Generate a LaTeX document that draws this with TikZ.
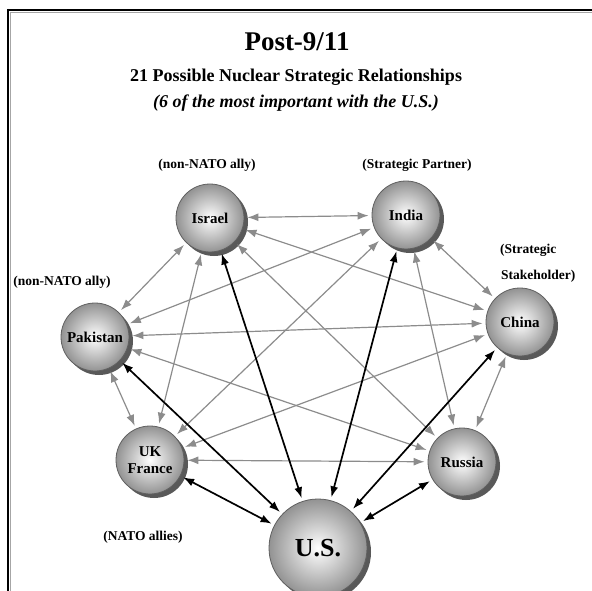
\documentclass[tikz,border=0pt]{standalone}
\usepackage{fontspec}
\setmainfont{Liberation Serif}
\usetikzlibrary{arrows.meta,shadows}

\tikzset{
  nation/.style={circle, draw=gray!75!black, line width=0.8pt, inner sep=0pt,
    minimum size=68pt, inner color=white, outer color=gray!85,
    drop shadow={shadow xshift=4pt, shadow yshift=-4pt, fill=gray!70!black, opacity=1},
    font=\bfseries\fontsize{15}{17}\selectfont, align=center},
  tie/.style={{Latex[length=11pt,width=8pt]}-{Latex[length=11pt,width=8pt]},
    draw=gray!90, line width=1.2pt, shorten >=3pt, shorten <=3pt},
  ustie/.style={tie, draw=black, line width=1.7pt},
  tag/.style={font=\bfseries\fontsize{13.5}{15}\selectfont, inner sep=0pt, align=left}
}

\begin{document}
\begin{tikzpicture}[x=1pt, y=-1pt]
	\useasboundingbox (0,0) rectangle (592,591);
	% frame
	\draw [gray!70, line width=1pt] (10.5,12.5) -- (592,12.5);
	\draw [gray!70, line width=1pt] (10.5,12.5) -- (10.5,591);
	\draw [line width=2pt] (8,10) -- (592,10);
	\draw [line width=2pt] (8,9) -- (8,591);
	% titles
	\node (title) at (297,42) {\bfseries\fontsize{27}{30}\selectfont Post-9/11};
	\node (sub) at (296,77) {\bfseries\fontsize{18}{20}\selectfont 21 Possible Nuclear Strategic Relationships};
	\node (note) at (296,103) {\bfseries\itshape\fontsize{18}{20}\selectfont (6 of the most important with the U.S.)};
	% countries
	\node [nation] (israel) at (210,218) {Israel};
	\node [nation] (india) at (406,215) {India};
	\node [nation] (china) at (520,322) {China};
	\node [nation] (russia) at (462,462) {Russia};
	\node [nation] (ukfr) at (150,460) {UK\\France};
	\node [nation] (pakistan) at (95,337) {Pakistan};
	\node [nation, minimum size=98pt, font=\bfseries\fontsize{26}{28}\selectfont] (us) at (318,548) {U.S.};
	% labels
	\node [tag] (lisrael) at (207,165) {(non-NATO ally)};
	\node [tag] (lindia) at (417,165) {(Strategic Partner)};
	\node [tag, anchor=west] (lchina1) at (500,250) {(Strategic};
	\node [tag, anchor=west] (lchina2) at (501,276) {Stakeholder)};
	\node [tag] (lpakistan) at (62,282) {(non-NATO ally)};
	\node [tag] (lukfr) at (143,537) {(NATO allies)};
	% 15 other relationships
	\draw [tie] (israel) -- (india);
	\draw [tie] (israel) -- (china);
	\draw [tie] (israel) -- (russia);
	\draw [tie] (israel) -- (ukfr);
	\draw [tie] (israel) -- (pakistan);
	\draw [tie] (india) -- (china);
	\draw [tie] (india) -- (russia);
	\draw [tie] (india) -- (ukfr);
	\draw [tie] (india) -- (pakistan);
	\draw [tie] (china) -- (russia);
	\draw [tie] (china) -- (ukfr);
	\draw [tie] (china) -- (pakistan);
	\draw [tie] (russia) -- (ukfr);
	\draw [tie] (russia) -- (pakistan);
	\draw [tie] (ukfr) -- (pakistan);
	% 6 with the U.S.
	\foreach \n in {israel,india,china,russia,ukfr,pakistan}
		\draw [ustie] (us) -- (\n);
\end{tikzpicture}
\end{document}
